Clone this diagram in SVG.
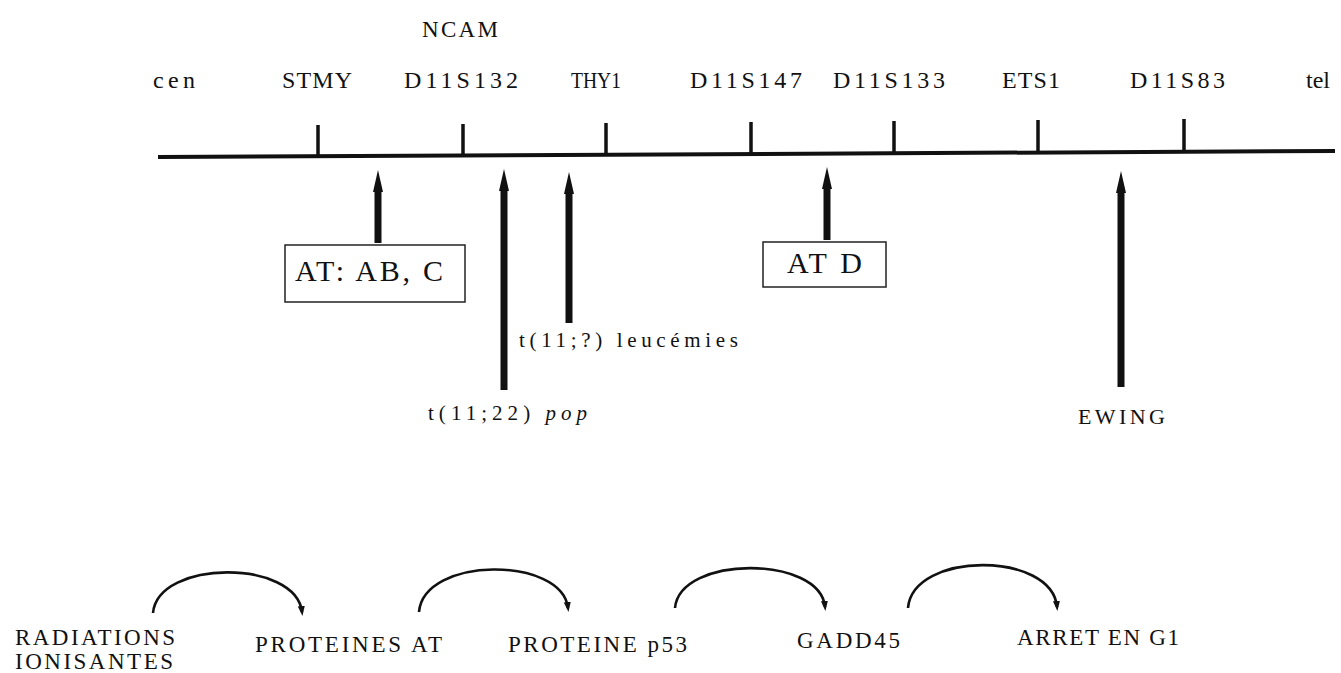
<svg xmlns="http://www.w3.org/2000/svg" width="1341" height="673" viewBox="0 0 1341 673">
<style>
text{font-family:"Liberation Serif","Times New Roman",serif;fill:#111}
.lbl{font-size:24px}
.box{fill:#fff;stroke:#222;stroke-width:1.5}
.boxt{font-size:30px}
.small{font-size:21px}
.bot{font-size:23px}
.axis{stroke:#111;stroke-width:4;fill:none}
.tick{stroke:#111;stroke-width:3.5}
.arr{stroke:#111;stroke-width:7;fill:none}
.arc{stroke:#111;stroke-width:2.6;fill:none}
</style>
<defs>
<marker id="bigHead" markerUnits="userSpaceOnUse" viewBox="0 0 22 14" refX="2" refY="7" markerWidth="22" markerHeight="14" orient="auto">
<path d="M0,2 L22,7 L0,12 Z" fill="#111"/>
</marker>
<marker id="smallHead" markerUnits="userSpaceOnUse" viewBox="0 0 10 8" refX="6" refY="4" markerWidth="10" markerHeight="8" orient="auto">
<path d="M0,0.5 L10,4 L0,7.5 Z" fill="#111"/>
</marker>
</defs>
<rect width="1341" height="673" fill="#fff"/>

<g id="chromosome">
<line class="axis" x1="158" y1="157" x2="1335" y2="151"/>
<line class="tick" x1="318" y1="125" x2="318" y2="157"/>
<line class="tick" x1="463" y1="124" x2="463" y2="156"/>
<line class="tick" x1="606" y1="123" x2="606" y2="156"/>
<line class="tick" x1="751" y1="122" x2="751" y2="155"/>
<line class="tick" x1="894" y1="121" x2="894" y2="154"/>
<line class="tick" x1="1038" y1="120" x2="1038" y2="153"/>
<line class="tick" x1="1184" y1="119" x2="1184" y2="152"/>
</g>

<g id="labels-top">
<text id="ncam" class="lbl" x="422" y="37" textLength="76" lengthAdjust="spacing" style="font-size:23px">NCAM</text>
<text id="cen" class="lbl" x="153" y="88" textLength="42" lengthAdjust="spacing">cen</text>
<text id="stmy" class="lbl" x="282" y="88" textLength="70" lengthAdjust="spacing">STMY</text>
<text id="d11s132" class="lbl" x="404" y="88" textLength="114" lengthAdjust="spacing">D11S132</text>
<text id="thy1" class="lbl" x="571" y="88" textLength="50" lengthAdjust="spacingAndGlyphs">THY1</text>
<text id="d11s147" class="lbl" x="690" y="88" textLength="112" lengthAdjust="spacing">D11S147</text>
<text id="d11s133" class="lbl" x="833" y="88" textLength="112" lengthAdjust="spacing">D11S133</text>
<text id="ets1" class="lbl" x="1002" y="88" textLength="58" lengthAdjust="spacing">ETS1</text>
<text id="d11s83" class="lbl" x="1130" y="88" textLength="95" lengthAdjust="spacing">D11S83</text>
<text id="tel" class="lbl" x="1306" y="88">tel</text>
</g>

<g id="connectors">
<line class="arr" x1="378" y1="243" x2="378" y2="190" marker-end="url(#bigHead)"/>
<line class="arr" x1="504" y1="390" x2="504" y2="189" marker-end="url(#bigHead)"/>
<line class="arr" x1="569" y1="323" x2="569" y2="192" marker-end="url(#bigHead)"/>
<line class="arr" x1="827" y1="240" x2="827" y2="187" marker-end="url(#bigHead)"/>
<line class="arr" x1="1121" y1="387" x2="1121" y2="191" marker-end="url(#bigHead)"/>
<path class="arc" d="M153,613 C158,559 296,559 302,612" marker-end="url(#smallHead)"/>
<path class="arc" d="M419,612 C424,556 562,556 568,608" marker-end="url(#smallHead)"/>
<path class="arc" d="M675,608 C680,555 820,555 825,607" marker-end="url(#smallHead)"/>
<path class="arc" d="M908,608 C913,551 1052,551 1057,607" marker-end="url(#smallHead)"/>
</g>

<g id="node-at-abc">
<rect class="box" x="285" y="245" width="180" height="57"/>
<text class="boxt" x="295" y="281" textLength="148" lengthAdjust="spacing">AT: AB, C</text>
</g>
<g id="node-at-d">
<rect class="box" x="763" y="242" width="123" height="45"/>
<text class="boxt" x="787" y="273" textLength="75" lengthAdjust="spacing">AT D</text>
</g>
<g id="node-t1122">
<text class="small" x="428" y="420" textLength="159" lengthAdjust="spacing">t(11;22) <tspan font-style="italic">pop</tspan></text>
</g>
<g id="node-t11q">
<text class="small" x="519" y="347" textLength="219" lengthAdjust="spacing">t(11;?) leucémies</text>
</g>
<g id="node-ewing">
<text class="small" x="1078" y="424" textLength="87" lengthAdjust="spacing" style="font-size:22px">EWING</text>
</g>

<g id="node-radiations">
<text class="bot" x="15" y="645" textLength="160" lengthAdjust="spacing">RADIATIONS</text>
<text class="bot" x="15" y="669" textLength="158" lengthAdjust="spacing">IONISANTES</text>
</g>
<g id="node-proteines-at">
<text class="bot" x="255" y="652" textLength="187" lengthAdjust="spacing">PROTEINES AT</text>
</g>
<g id="node-p53">
<text class="bot" x="508" y="652" textLength="179" lengthAdjust="spacing">PROTEINE p53</text>
</g>
<g id="node-gadd45">
<text class="bot" x="797" y="648" textLength="103" lengthAdjust="spacing">GADD45</text>
</g>
<g id="node-arret">
<text class="bot" x="1017" y="645" textLength="162" lengthAdjust="spacing">ARRET EN G1</text>
</g>
</svg>
